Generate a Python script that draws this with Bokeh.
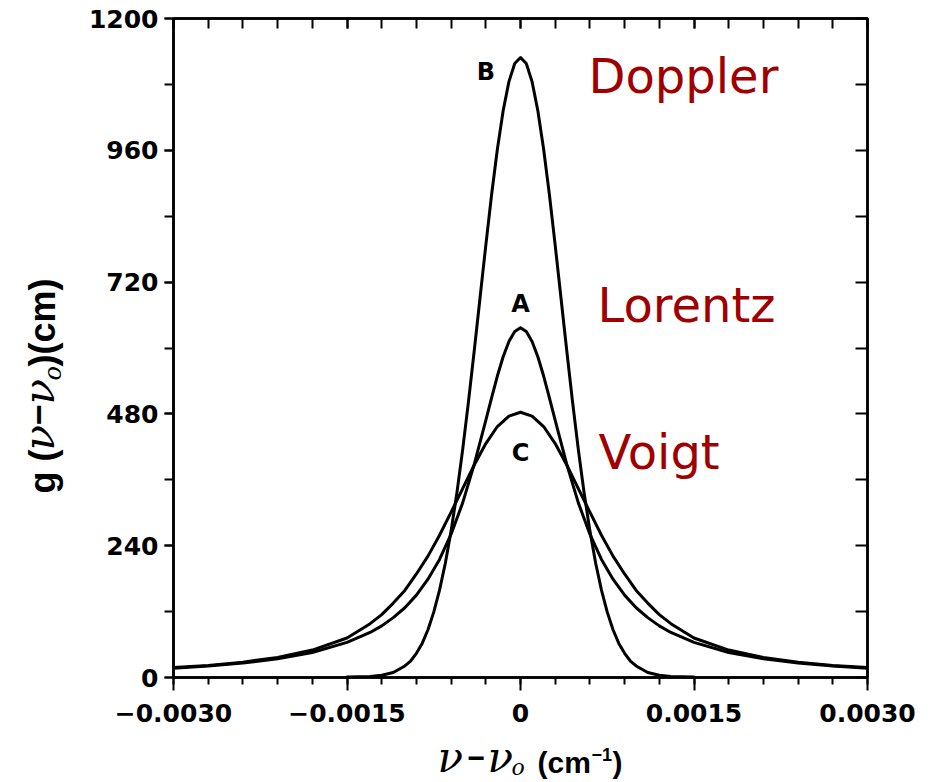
import math

from bokeh.plotting import figure
from bokeh.layouts import row, column
from bokeh.models import (Range1d, LinearAxis, SingleIntervalTicker,
                          CustomJSTickFormatter, Label)
from bokeh.embed import file_html
from bokeh.resources import INLINE

# ---- line-shape data: detuning nu - nu0 (cm^-1) and g (cm) ----
doppler_x = [-0.0015, -0.0013, -0.0012, -0.0011, -0.0010, -0.00095, -0.0009,
             -0.00085, -0.0008, -0.00075, -0.0007, -0.00065, -0.0006, -0.00055,
             -0.0005, -0.00045, -0.0004, -0.00035, -0.0003, -0.00025, -0.0002,
             -0.00015, -0.0001, -0.00005, 0.0, 0.00005, 0.0001, 0.00015, 0.0002,
             0.00025, 0.0003, 0.00035, 0.0004, 0.00045, 0.0005, 0.00055, 0.0006,
             0.00065, 0.0007, 0.00075, 0.0008, 0.00085, 0.0009, 0.00095, 0.0010,
             0.0011, 0.0012, 0.0013, 0.0015]
doppler_g = [1, 2, 4, 9, 21, 30, 44, 62, 87, 119, 159, 208, 267, 336, 415, 502,
             595, 691, 787, 879, 962, 1032, 1085, 1118, 1129, 1118, 1085, 1032,
             962, 879, 787, 691, 595, 502, 415, 336, 267, 208, 159, 119, 87, 62,
             44, 30, 21, 9, 4, 2, 1]

lorentz_x = [-0.0030, -0.0027, -0.0024, -0.0021, -0.0018, -0.0015, -0.0013,
             -0.0012, -0.0011, -0.0010, -0.0009, -0.0008, -0.0007, -0.0006,
             -0.0005, -0.0004, -0.0003, -0.00025, -0.0002, -0.00015, -0.0001,
             -0.00005, 0.0, 0.00005, 0.0001, 0.00015, 0.0002, 0.00025, 0.0003,
             0.0004, 0.0005, 0.0006, 0.0007, 0.0008, 0.0009, 0.0010, 0.0011,
             0.0012, 0.0013, 0.0015, 0.0018, 0.0021, 0.0024, 0.0027, 0.0030]
lorentz_g = [17, 21, 26.5, 34, 45.5, 64, 82, 94, 109, 127, 150, 179, 215, 261,
             318, 388, 468, 509, 549, 584, 612, 630, 637, 630, 612, 584, 549,
             509, 468, 388, 318, 261, 215, 179, 150, 127, 109, 94, 82, 64, 45.5,
             34, 26.5, 21, 17]

voigt_x = [-0.0030, -0.0027, -0.0024, -0.0021, -0.0018, -0.0015, -0.0013,
           -0.0012, -0.0011, -0.0010, -0.0009, -0.0008, -0.0007, -0.0006,
           -0.0005, -0.0004, -0.0003, -0.0002, -0.0001, 0.0, 0.0001, 0.0002,
           0.0003, 0.0004, 0.0005, 0.0006, 0.0007, 0.0008, 0.0009, 0.0010,
           0.0011, 0.0012, 0.0013, 0.0015, 0.0018, 0.0021, 0.0024, 0.0027,
           0.0030]
voigt_g = [18, 22, 28, 36.5, 50, 72, 98, 114.5, 135.5, 158.5, 188.5, 221, 259,
           301, 344, 387, 426, 457, 476, 483, 476, 457, 426, 387, 344, 301, 259,
           221, 188.5, 158.5, 135.5, 114.5, 98, 72, 50, 36.5, 28, 22, 18]

# ---- page geometry (pixels) ----
W, H = 931, 782
TITLE_W = 80          # strip holding the vertical axis title
TITLE_H = 50          # strip holding the horizontal axis title
MAIN_W, MAIN_H = W - TITLE_W, H - TITLE_H
BORDER_L, BORDER_R = 93, 64
FRAME_X0 = TITLE_W + BORDER_L              # page x of the plot frame's left edge
FRAME_W = MAIN_W - BORDER_L - BORDER_R     # plot frame width

BOLD_SANS = "Liberation Sans"
TICK_FONT = "DejaVu Sans"
SERIF = "DejaVu Serif"
RED = "#a00000"
MID = 0.346           # baseline-to-centre distance of a text line, in em

# ---- main plot ----
p = figure(width=MAIN_W, height=MAIN_H,
           x_range=Range1d(-0.003, 0.003), y_range=Range1d(0, 1200),
           output_backend="svg", toolbar_location=None,
           min_border_left=BORDER_L, min_border_right=BORDER_R,
           min_border_top=18, min_border_bottom=55)
p.grid.visible = False
p.background_fill_color = "white"
p.border_fill_color = "white"
p.outline_line_color = "black"
p.outline_line_width = 2.5

blank = CustomJSTickFormatter(code="return '';")

# bottom axis: labelled every 0.0015, minor ticks every 0.0003
xa = p.xaxis[0]
xa.ticker = SingleIntervalTicker(interval=0.0015, num_minor_ticks=5)
xa.formatter = CustomJSTickFormatter(code="""
    const v = Math.round(tick * 1e4) / 1e4;
    if (Math.abs(v) < 1e-9) { return "0"; }
    return (v < 0 ? "\u2212" : "") + Math.abs(v).toFixed(4);
""")
xa.axis_line_width = 2.5
xa.major_tick_line_width = 2
xa.minor_tick_line_width = 2
xa.major_tick_in, xa.major_tick_out = 0, 13
xa.minor_tick_in, xa.minor_tick_out = 0, 7
xa.major_label_standoff = 13

# left axis: labelled every 240 with one minor tick between
ya = p.yaxis[0]
ya.ticker = SingleIntervalTicker(interval=240, num_minor_ticks=2)
ya.formatter = CustomJSTickFormatter(code="return tick.toFixed(0);")
ya.axis_line_width = 2.5
ya.major_tick_line_width = 2
ya.minor_tick_line_width = 2
ya.major_tick_in, ya.major_tick_out = 0, 9
ya.minor_tick_in, ya.minor_tick_out = 0, 9
ya.major_label_standoff = 6

for ax in (xa, ya):
    ax.major_label_text_font = TICK_FONT
    ax.major_label_text_font_style = "bold"
    ax.major_label_text_font_size = "25px"
    ax.major_label_text_color = "black"

# top and right frame axes with inward ticks only
top_axis = LinearAxis(ticker=SingleIntervalTicker(interval=0.0015, num_minor_ticks=5),
                      formatter=blank, axis_line_width=2.5,
                      major_tick_in=10, major_tick_out=0, major_tick_line_width=2,
                      minor_tick_in=10, minor_tick_out=0, minor_tick_line_width=2)
right_axis = LinearAxis(ticker=SingleIntervalTicker(interval=120, num_minor_ticks=0),
                        formatter=blank, axis_line_width=2.5,
                        major_tick_in=12, major_tick_out=0, major_tick_line_width=2,
                        minor_tick_in=0, minor_tick_out=0)
p.add_layout(top_axis, "above")
p.add_layout(right_axis, "right")

# ---- curves ----
for xs, ys in ((doppler_x, doppler_g), (lorentz_x, lorentz_g), (voigt_x, voigt_g)):
    p.line(xs, ys, line_color="black", line_width=3,
           line_join="round", line_cap="round")

# curve letters
for x, y, t in ((-0.0003, 1103, "B"), (0.0, 681, "A"), (0.0, 408, "C")):
    p.add_layout(Label(x=x, y=y, text=t, text_align="center", text_baseline="middle",
                       text_font=TICK_FONT, text_font_style="bold",
                       text_font_size="24px", text_color="black"))

# profile names (y is the text centre line)
for x, y, t in ((0.000588, 1096, "Doppler"), (0.000666, 679, "Lorentz"),
                (0.000675, 411, "Voigt")):
    p.add_layout(Label(x=x, y=y, text=t, text_align="left", text_baseline="middle",
                       text_font="DejaVu Sans", text_font_size="48px",
                       text_color=RED))


def strip(width, height, x_range, y_range):
    """A bare figure whose data units are page pixels (y grows downwards)."""
    f = figure(width=width, height=height, x_range=x_range, y_range=y_range,
               x_axis_type=None, y_axis_type=None,
               output_backend="svg", toolbar_location=None,
               min_border=0)
    f.grid.visible = False
    f.outline_line_color = None
    f.background_fill_color = "white"
    f.border_fill_color = "white"
    return f


def piece(f, px, py, text, font, size, style="normal", vertical=False):
    """Text fragment whose baseline starts at page pixel (px, py)."""
    off = MID * size
    if vertical:
        x, y, angle = px - off, py, math.pi / 2
    else:
        x, y, angle = px, py - off, 0.0
    f.add_layout(Label(x=x, y=y, text=text, text_font=font,
                       text_font_size=f"{size}px", text_font_style=style,
                       text_color="black", text_align="left",
                       text_baseline="middle", angle=angle))


# ---- vertical axis title:  g (nu - nu_o)(cm), reading upwards ----
ytitle = strip(TITLE_W, H, Range1d(0, TITLE_W), Range1d(H, 0))
by = 54
piece(ytitle, by, 493, "g (", BOLD_SANS, 36, "bold", True)
piece(ytitle, by, 450, "\u03bd", SERIF, 42, "italic", True)
piece(ytitle, by - 4, 425, "\u2212", BOLD_SANS, 36, "bold", True)
piece(ytitle, by, 404, "\u03bd", SERIF, 42, "italic", True)
piece(ytitle, by + 7, 380, "o", SERIF, 24, "italic", True)
piece(ytitle, by, 366, ")(cm)", BOLD_SANS, 36, "bold", True)

# ---- horizontal axis title:  nu - nu_o (cm^-1) ----
# the strip's frame lines up with the plot frame above it
xtitle = strip(MAIN_W, TITLE_H, Range1d(FRAME_X0, FRAME_X0 + FRAME_W),
               Range1d(H, MAIN_H))
bx = 772
piece(xtitle, 437, bx, "\u03bd", SERIF, 42, "italic")
piece(xtitle, 467, bx - 4, "\u2212", BOLD_SANS, 30, "bold")
piece(xtitle, 487, bx, "\u03bd", SERIF, 42, "italic")
piece(xtitle, 511, bx + 3, "o", SERIF, 22, "italic")
piece(xtitle, 537, bx, "(cm", BOLD_SANS, 30, "bold")
piece(xtitle, 591, bx - 12, "\u22121", BOLD_SANS, 18, "bold")
piece(xtitle, 612, bx, ")", BOLD_SANS, 30, "bold")

page = row(ytitle, column(p, xtitle, spacing=0), spacing=0)
open("out.html", "w").write(file_html(page, INLINE))
